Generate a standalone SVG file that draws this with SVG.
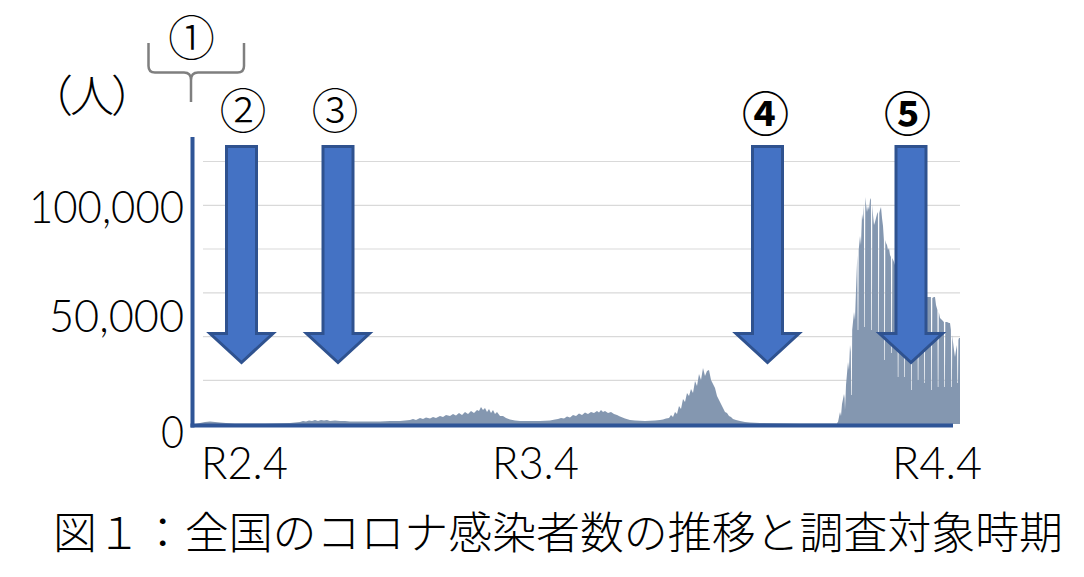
<svg xmlns="http://www.w3.org/2000/svg" xmlns:xlink="http://www.w3.org/1999/xlink" width="1084" height="577" viewBox="0 0 1084 577">
<style>
.grid{stroke:#D9D9D9;stroke-width:1.2;fill:none}
.axis{stroke:#2F5597;stroke-width:4;fill:none}
.area{fill:#8497B0;stroke:none}
.arrow{fill:#4472C4;stroke:#2F528F;stroke-width:3;stroke-linejoin:miter}
.num{font-family:Lato,"Liberation Sans",Arial,sans-serif;font-weight:300;font-size:45px;fill:#000}
.cjk{font-family:"Noto Sans CJK JP","Noto Sans",sans-serif;fill:#000}
.circ{font-family:"Noto Sans CJK JP",sans-serif;font-size:47px;fill:#000;text-anchor:middle}
</style>
<defs>
<path id="downArrow" d="M -15 0 L 15 0 L 15 187 L 31.5 187 L 0 216 L -31.5 187 L -15 187 Z"/>
</defs>
<rect width="1084" height="577" fill="#FFFFFF"/>
<g id="gridlines">
<line class="grid" x1="203" y1="161.5" x2="960" y2="161.5"/>
<line class="grid" x1="203" y1="205.3" x2="960" y2="205.3"/>
<line class="grid" x1="203" y1="249" x2="960" y2="249"/>
<line class="grid" x1="203" y1="292.8" x2="960" y2="292.8"/>
<line class="grid" x1="203" y1="336.6" x2="960" y2="336.6"/>
<line class="grid" x1="203" y1="380.4" x2="960" y2="380.4"/>
</g>
<g id="series">
<path class="area" d="M 195 424 L 200 423 L 205 422 L 210 421.5 L 215 422 L 220 422.5 L 226 423 L 235 423.5 L 265 423.5 L 290 423 L 300 422 L 303 421 L 306 421.5 L 309 420.5 L 312 421 L 315 420 L 318 421 L 321 420 L 324 420.5 L 327 420 L 330 421 L 335 420.5 L 340 421 L 345 421 L 350 421.5 L 380 421.5 L 390 421 L 400 421 L 410 420 L 413 419 L 416 420 L 420 418 L 423 419 L 426 417.5 L 430 418.5 L 433 417 L 436 418 L 440 416 L 443 417 L 446 415 L 450 416 L 453 414 L 456 415.5 L 459 413 L 462 415 L 465 412 L 468 414 L 471 411 L 474 413 L 477 410 L 479 411 L 481 407 L 483 410 L 485 408 L 487 412 L 489 409 L 491 413 L 493 410 L 495 414 L 497 412 L 500 416 L 503 416 L 506 418 L 510 419.5 L 515 420.5 L 520 421 L 540 421 L 550 420.5 L 555 419.5 L 558 419 L 561 418 L 564 418.5 L 567 416.5 L 570 417.5 L 573 415 L 576 416 L 579 413.5 L 582 415 L 585 412.5 L 588 414 L 591 412 L 594 413 L 597 411 L 599 412.5 L 601 410 L 603 412 L 605 411 L 608 413 L 611 412 L 614 414 L 617 415 L 620 416.5 L 625 418.5 L 630 420 L 635 420.5 L 645 421 L 655 420.5 L 660 420 L 663 419.5 L 666 418.5 L 669 418 L 671 415 L 673 417 L 675 412 L 677 414 L 679 406 L 681 409 L 683 399 L 685 402 L 687 393 L 689 396 L 691 389 L 693 393 L 695 381 L 697 386 L 699 374 L 701 380 L 703 368 L 705 376 L 707 371 L 709 370 L 711 380 L 713 384 L 715 388 L 717 396 L 719 400 L 721 404 L 723 408 L 725 412 L 727 413 L 729 416 L 731 417 L 733 419 L 736 420 L 740 421 L 745 422 L 750 422.5 L 760 423 L 800 423.5 L 836 423.5 L 836 424 Z"/>
<path class="area" d="M 836 424 L 838 422 L 840 412 L 841 416 L 842 404 L 844 394 L 844.6 398 L 845 410 L 845.6 396 L 846 385 L 848 362 L 849 370 L 850 345 L 850.8 352 L 851.2 395 L 851.8 395 L 852.2 330 L 854 312 L 855 320 L 856 290 L 857.3 255 L 857.7 330 L 858.3 330 L 858.7 250 L 860 236 L 861 245 L 862 214 L 863 220 L 863.9 205 L 864.3 327 L 864.9 327 L 865.3 197 L 866 204 L 867 212 L 868 206 L 869 210 L 870 200 L 870.9 198 L 871.3 330 L 871.9 330 L 872.3 205 L 873 215 L 874 225 L 875 222 L 876 218 L 877 214 L 877.9 212 L 878.3 333 L 878.9 333 L 879.3 213 L 880 210 L 881 207 L 882 218 L 883 226 L 883.9 240 L 884.3 360 L 884.9 360 L 885.3 240 L 886 243 L 887 245 L 888 250 L 889 248 L 890 255 L 890.9 257 L 891.3 353 L 891.9 353 L 892.3 258 L 894 262 L 896 268 L 897.4 270 L 897.8 377 L 898.4 377 L 898.8 272 L 900 275 L 902 278 L 903.9 280 L 904.3 377 L 904.9 377 L 905.3 282 L 907 285 L 909 286 L 910.9 288 L 911.3 390 L 911.9 390 L 912.3 289 L 914 290 L 916 292 L 917.4 292 L 917.8 380 L 918.4 380 L 918.8 293 L 920 294 L 922 295 L 923.9 295 L 924.3 383 L 924.9 383 L 925.3 296 L 927 297 L 929 297 L 930.9 297 L 931.3 390 L 931.9 390 L 932.3 298 L 934 297 L 935 297 L 936 305 L 937.4 310 L 937.8 387 L 938.4 387 L 938.8 312 L 940 318 L 942 320 L 943.9 322 L 944.3 387 L 944.9 387 L 945.3 322 L 947 322 L 949 323 L 950 323 L 950.9 330 L 951.3 387 L 951.9 387 L 952.3 335 L 953 342 L 954 350 L 955 357 L 956 350 L 957 345 L 957.4 383 L 958 383 L 958.4 340 L 959 338 L 960 338 L 960 424 Z"/>
</g>
<g id="axes">
<line class="axis" x1="192.5" y1="137" x2="192.5" y2="427.5"/>
<line class="axis" x1="190.5" y1="425.5" x2="953" y2="425.5"/>
</g>
<g id="y-labels">
<text class="num" x="184" y="223" text-anchor="end" textLength="155" lengthAdjust="spacingAndGlyphs">100,000</text>
<text class="num" x="184" y="332" text-anchor="end" textLength="135" lengthAdjust="spacingAndGlyphs">50,000</text>
<text class="num" x="184" y="448" text-anchor="end" textLength="23" lengthAdjust="spacingAndGlyphs">0</text>
<text class="cjk" x="29" y="112" font-size="44" font-weight="300" letter-spacing="-3">（人）</text>
</g>
<g id="x-labels">
<text class="num" x="201" y="479" textLength="87" lengthAdjust="spacingAndGlyphs">R2.4</text>
<text class="num" x="492" y="479" textLength="87" lengthAdjust="spacingAndGlyphs">R3.4</text>
<text class="num" x="892" y="479" textLength="90" lengthAdjust="spacingAndGlyphs">R4.4</text>
</g>
<g id="period-1">
<path d="M 148.5 43 L 148.5 66 Q 148.5 72.5 155 72.5 L 184 72.5 Q 191 72.5 191 80 L 191 102 M 191 80 Q 191 72.5 198 72.5 L 237.5 72.5 Q 244 72.5 244 66 L 244 43" fill="none" stroke="#7F7F7F" stroke-width="2.5"/>
<text class="circ" x="191.5" y="55" font-weight="300">①</text>
</g>
<g id="arrows">
<g id="arrow-2"><use xlink:href="#downArrow" class="arrow" transform="translate(241.5,146.5)"/><text class="circ" x="243" y="127.5" font-weight="300">②</text></g>
<g id="arrow-3"><use xlink:href="#downArrow" class="arrow" transform="translate(338,146.5)"/><text class="circ" x="335" y="127.5" font-weight="300">③</text></g>
<g id="arrow-4"><use xlink:href="#downArrow" class="arrow" transform="translate(767.5,146.5)"/><text class="circ" x="765.5" y="131" font-weight="bold">④</text></g>
<g id="arrow-5"><use xlink:href="#downArrow" class="arrow" transform="translate(911,146.5)"/><text class="circ" x="907.5" y="131" font-weight="bold">⑤</text></g>
</g>
<g id="caption">
<text class="cjk" x="53" y="549" font-size="44" font-weight="300" textLength="1010" lengthAdjust="spacingAndGlyphs">図１：全国のコロナ感染者数の推移と調査対象時期</text>
</g>
</svg>
